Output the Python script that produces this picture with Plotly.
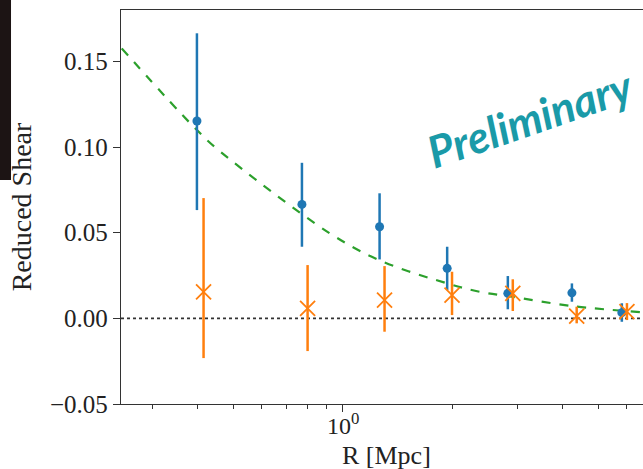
import math
import plotly.graph_objects as go

# ---- data ----
r_blue = [0.398, 0.772, 1.26, 1.93, 2.83, 4.24, 5.81]
g_blue = [0.1152, 0.0665, 0.0535, 0.0292, 0.0146, 0.0149, 0.0033]
e_blue_up = [0.0512, 0.0243, 0.0195, 0.0126, 0.0101, 0.0055, 0.0055]
e_blue_dn = [0.0520, 0.0247, 0.0191, 0.0127, 0.0093, 0.0052, 0.0053]

r_orange = [0.415, 0.80, 1.30, 1.99, 2.92, 4.37, 6.0]
g_orange = [0.0155, 0.0058, 0.0107, 0.0136, 0.0146, 0.0013, 0.0039]
e_orange_up = [0.0547, 0.0253, 0.0198, 0.0136, 0.0082, 0.0055, 0.0050]
e_orange_dn = [0.0387, 0.0249, 0.0185, 0.0117, 0.0103, 0.0042, 0.0049]

r_model = [0.2477, 0.336, 0.398, 0.449, 0.921, 1.263, 1.93, 2.37, 2.90, 4.24, 6.64]
g_model = [0.1576, 0.1264, 0.1099, 0.0994, 0.0496, 0.0338, 0.0204, 0.0155, 0.0126, 0.0072, 0.0035]

x_range = [0.2465, 6.64]
y_range = [-0.05, 0.18]
y_ticks = [-0.05, 0.0, 0.05, 0.10, 0.15]
x_major = [1]
x_major_text = ["10<sup>0</sup>"]
x_minor = [0.3, 0.4, 0.5, 0.6, 0.7, 0.8, 0.9, 2, 3, 4, 5, 6]

fig = go.Figure()

# zero line (dotted)
fig.add_trace(go.Scatter(x=x_range, y=[0, 0], mode="lines",
                         line=dict(color="#333333", width=1.6, dash="dot"),
                         showlegend=False, hoverinfo="skip"))

# model curve
fig.add_trace(go.Scatter(x=r_model, y=g_model, mode="lines",
                         line=dict(color="#2ca02c", width=2.2, dash="dash", shape="spline"),
                         showlegend=False))

# blue points
fig.add_trace(go.Scatter(x=r_blue, y=g_blue, mode="markers",
                         marker=dict(color="#1f77b4", size=9, symbol="circle"),
                         error_y=dict(type="data", symmetric=False, array=e_blue_up,
                                      arrayminus=e_blue_dn, color="#1f77b4",
                                      thickness=2.5, width=0),
                         showlegend=False))

# orange points
fig.add_trace(go.Scatter(x=r_orange, y=g_orange, mode="markers",
                         marker=dict(color="#ff7f0e", size=15, symbol="x-thin",
                                     line=dict(color="#ff7f0e", width=1.8)),
                         error_y=dict(type="data", symmetric=False, array=e_orange_up,
                                      arrayminus=e_orange_dn, color="#ff7f0e",
                                      thickness=2.5, width=0),
                         showlegend=False))

font_serif = "Liberation Serif"

fig.update_layout(
    width=643, height=469,
    margin=dict(l=121, r=0, t=10, b=65),
    paper_bgcolor="white", plot_bgcolor="white",
    font=dict(family=font_serif, size=24, color="#222222"),
    xaxis=dict(
        type="log",
        range=[math.log10(x_range[0]), math.log10(x_range[1])],
        tickmode="array", tickvals=x_major, showticklabels=False,
        ticks="outside", ticklen=7, tickwidth=1.2, tickcolor="#333333",
        showline=True, linecolor="#333333", linewidth=1.4, mirror=True,
        showgrid=False, zeroline=False,
        minor=dict(tickmode="array", tickvals=x_minor, ticks="outside",
                   ticklen=4, tickwidth=1, tickcolor="#333333", showgrid=False),
    ),
    yaxis=dict(
        range=y_range,
        tickmode="array", tickvals=y_ticks, tickformat=".2f",
        ticks="outside", ticklen=7, tickwidth=1.2, tickcolor="#333333",
        showline=True, linecolor="#333333", linewidth=1.4,
        showgrid=False, zeroline=False,
        title=dict(text="Reduced Shear", standoff=10, font=dict(size=28)),
        tickfont=dict(size=25),
    ),
)

# x tick labels (log decades) drawn as text under their ticks
for xv, xt in zip(x_major, x_major_text):
    fig.add_annotation(text=xt, x=math.log10(xv), xref="x", yref="paper",
                       y=(404 - 424) / 394, xanchor="center", yanchor="middle",
                       showarrow=False,
                       font=dict(family=font_serif, size=24, color="#222222"))

# x-axis title
fig.add_annotation(text="R [Mpc]", xref="paper", yref="paper",
                   x=(386 - 121) / 522, y=(404 - 455) / 394,
                   xanchor="center", yanchor="middle", showarrow=False,
                   font=dict(family=font_serif, size=26, color="#222222"))

# dark slide background fragment at top-left
fig.add_shape(type="rect", xref="paper", yref="paper",
              x0=-0.2318, x1=-0.2107, y0=0.5685, y1=1.03,
              fillcolor="#1c1414", line=dict(width=0), layer="below")

# "Preliminary" watermark
fig.add_annotation(text="<b><i>Preliminary</i></b>", xref="paper", yref="paper",
                   x=(530 - 121) / 522, y=(404 - 118) / 394,
                   xanchor="center", yanchor="middle",
                   showarrow=False, textangle=-19,
                   font=dict(family="Lato", size=44, color="#1a9aa8"))

fig.write_html("out.html")
